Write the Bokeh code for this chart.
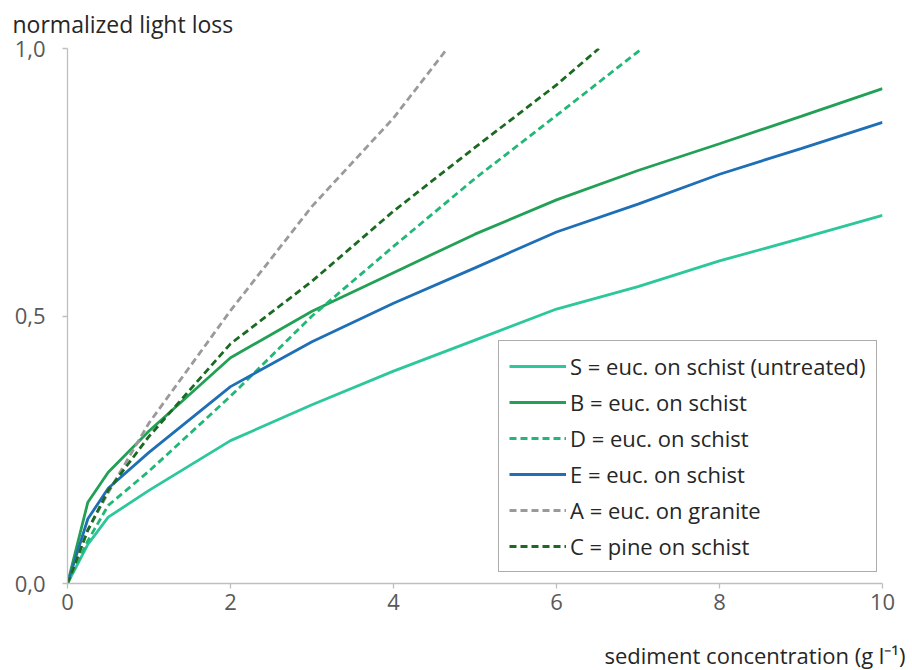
from bokeh.plotting import figure
from bokeh.models import Legend, LegendItem, Title, FixedTicker, CustomJSTickFormatter, Range1d
from bokeh.embed import file_html
from bokeh.resources import INLINE

# ---- data ----
x_solid = [0, 0.25, 0.5, 1, 2, 3, 4, 5, 6, 7, 8, 9, 10]
S_vals = [0, 0.073, 0.124, 0.174, 0.267, 0.334, 0.397, 0.455, 0.513, 0.555, 0.603, 0.645, 0.688]
B_vals = [0, 0.152, 0.208, 0.285, 0.422, 0.509, 0.581, 0.653, 0.717, 0.772, 0.822, 0.873, 0.925]
E_vals = [0, 0.121, 0.178, 0.245, 0.368, 0.452, 0.524, 0.590, 0.657, 0.709, 0.765, 0.813, 0.862]
D_x = [0, 0.25, 0.5, 1, 2, 3, 4, 5, 6, 7.05]
D_vals = [0, 0.08, 0.146, 0.21, 0.35, 0.5, 0.63, 0.757, 0.875, 1.0]
A_x = [0, 0.25, 0.5, 1, 2, 3, 4, 4.66]
A_vals = [0, 0.10, 0.17, 0.30, 0.51, 0.705, 0.87, 1.0]
C_x = [0, 0.25, 0.5, 1, 2, 3, 4, 5, 6, 6.52]
C_vals = [0, 0.10, 0.174, 0.275, 0.448, 0.565, 0.696, 0.815, 0.932, 1.0]

labels = ["S = euc. on schist (untreated)", "B = euc. on schist", "D = euc. on schist",
          "E = euc. on schist", "A = euc. on granite", "C = pine on schist"]
x_ticks = [0, 2, 4, 6, 8, 10]
y_ticks = [0, 0.5, 1.0]

FONT = "Open Sans"
FS = "22px"

p = figure(width=905, height=670, output_backend="svg", toolbar_location=None,
           x_range=Range1d(0, 10), y_range=Range1d(0, 1.0),
           min_border_left=67, min_border_right=23, min_border_top=47, min_border_bottom=87)
p.outline_line_color = None
p.xgrid.visible = False
p.ygrid.visible = False

series = [
    (x_solid, S_vals, "#2CC79B", None),
    (x_solid, B_vals, "#22A055", None),
    (D_x, D_vals, "#21B777", "7 4"),
    (x_solid, E_vals, "#1E6FB5", None),
    (A_x, A_vals, "#9A9A9A", "7 4"),
    (C_x, C_vals, "#1A6A22", "7 4"),
]
items = []
for (xs, ys, col, dash), lab in zip(series, labels):
    kw = dict(line_color=col, line_width=2.8)
    if dash:
        kw["line_dash"] = dash
    r = p.line(xs, ys, **kw)
    items.append(LegendItem(label=lab, renderers=[r]))

for ax in (p.xaxis[0], p.yaxis[0]):
    ax.axis_line_color = "#BFBFBF"
    ax.axis_line_width = 1.3
    ax.major_tick_line_color = "#BFBFBF"
    ax.major_tick_line_width = 1.3
    ax.minor_tick_line_color = None
    ax.major_tick_in = 0
    ax.major_tick_out = 5
    ax.major_label_text_font = FONT
    ax.major_label_text_font_size = FS
    ax.major_label_text_color = "#595959"

p.xaxis.ticker = FixedTicker(ticks=x_ticks)
p.yaxis.ticker = FixedTicker(ticks=y_ticks)
p.xaxis.major_label_standoff = 5
p.yaxis.major_label_standoff = 17
p.yaxis.formatter = CustomJSTickFormatter(code="return tick.toFixed(1).replace('.', ',');")
p.xaxis.formatter = CustomJSTickFormatter(code="return tick.toFixed(0);")

legend = Legend(items=items, location=(431, 11), border_line_color="#595959",
                border_line_width=1.2, padding=10, spacing=6, margin=0,
                glyph_width=57, glyph_height=20, label_height=20, label_standoff=4,
                label_text_font=FONT, label_text_font_size=FS,
                label_text_color="#262626", background_fill_alpha=1)
p.add_layout(legend, "center")

p.add_layout(Title(text="normalized light loss", align="left", offset=-55, standoff=14,
                   vertical_align="top", text_font=FONT, text_font_size="23px",
                   text_font_style="normal", text_color="#262626"), "above")
p.add_layout(Title(text="\nsediment concentration (g l\u207b\u00b9)", align="right", offset=-23,
                   standoff=0, vertical_align="bottom", text_font=FONT, text_font_size=FS,
                   text_line_height=0.86,
                   text_font_style="normal", text_color="#262626"), "below")

open("out.html", "w").write(file_html(p, INLINE))
